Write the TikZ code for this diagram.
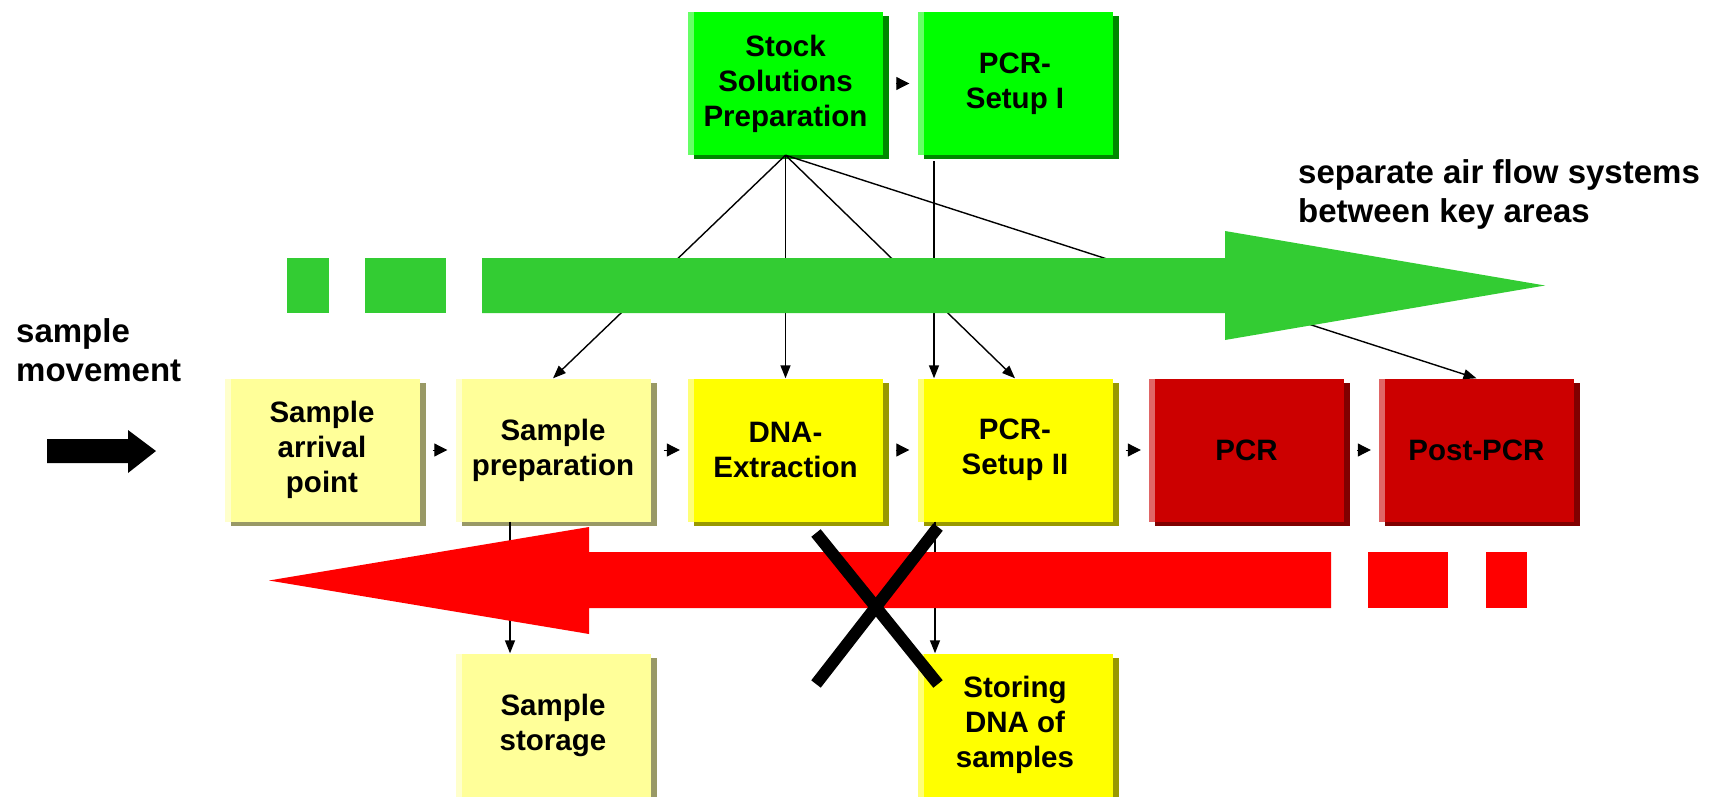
\documentclass[tikz,border=0pt]{standalone}
\usepackage{fontspec}
\setmainfont{Liberation Sans}
\usepackage{tikz}
\usetikzlibrary{arrows.meta,shadows}
\definecolor{labGreen}{HTML}{00FF00}
\definecolor{labGreenLt}{HTML}{66FF66}
\definecolor{labGreenDk}{HTML}{008800}
\definecolor{labPale}{HTML}{FFFF99}
\definecolor{labPaleLt}{HTML}{FFFFCC}
\definecolor{labPaleDk}{HTML}{999966}
\definecolor{labYellow}{HTML}{FFFF00}
\definecolor{labYellowLt}{HTML}{FFFF77}
\definecolor{labYellowDk}{HTML}{999900}
\definecolor{labRed}{HTML}{CC0000}
\definecolor{labRedLt}{HTML}{E06666}
\definecolor{labRedDk}{HTML}{800000}
\definecolor{airGreen}{HTML}{33CC33}
\definecolor{airRed}{HTML}{FF0000}

\begin{document}
\begin{tikzpicture}[
  x=1pt, y=-1pt,
  room/.style n args={3}{
    rectangle, inner sep=0pt, minimum width=195pt, minimum height=143pt,
    align=center, font=\bfseries\fontsize{29.5}{35}\selectfont, fill=#1,
    drop shadow={shadow xshift=6pt, shadow yshift=-4pt, opacity=1, fill=#3},
    path picture={\fill[#2] (path picture bounding box.south west)
      rectangle ([xshift=6pt]path picture bounding box.north west);}
  },
  greenroom/.style={room={labGreen}{labGreenLt}{labGreenDk}},
  paleroom/.style={room={labPale}{labPaleLt}{labPaleDk}},
  yellowroom/.style={room={labYellow}{labYellowLt}{labYellowDk}},
  redroom/.style={room={labRed}{labRedLt}{labRedDk}},
  link/.style={-{Triangle[length=13pt,width=10pt]}, line width=1.4pt},
  seq/.style={-{Triangle[length=13pt,width=13pt]}, line width=1pt,
    shorten <=13pt, shorten >=8pt},
  note/.style={font=\bfseries\fontsize{33}{39}\selectfont, align=left,
    inner sep=0pt, anchor=north west}
]
\useasboundingbox (0,0) rectangle (1709,797);

% ---- rooms ----------------------------------------------------------------
\node[greenroom]  (stock)   at (785.5,83.5) {Stock\\Solutions\\Preparation};
\node[greenroom]  (setupI)  at (1015,83.5)  {PCR-\\Setup I};
\node[paleroom]   (arrival) at (322,450)    {Sample\\arrival\\point};
\node[paleroom]   (prep)    at (553,450)    {Sample\\preparation};
\node[yellowroom] (dna)     at (785.5,450)  {DNA-\\Extraction};
\node[yellowroom] (setupII) at (1015,450)   {PCR-\\Setup II};
\node[redroom]    (pcr)     at (1246.5,450) {PCR};
\node[redroom]    (postpcr) at (1476.5,450) {Post-PCR};
\node[paleroom]   (storage) at (553,725)    {Sample\\storage};
\node[yellowroom] (storing) at (1015,725)   {Storing\\DNA of\\samples};

% ---- connectors -----------------------------------------------------------
\foreach \a/\b in {arrival/prep, prep/dna, dna/setupII, setupII/pcr,
                   pcr/postpcr, stock/setupI}
  \draw[seq] (\a) -- (\b);
\foreach \t in {prep, dna, setupII, postpcr}
  \draw[link] (stock.south) -- (\t.north);
\draw[link, shorten <=6pt] ([xshift=-81pt]setupI.south) -- ([xshift=-81pt]setupII.north);
\draw[link] ([xshift=-43pt]prep.south) -- ([xshift=-43pt]storage.north);
\draw[link] ([xshift=-80pt]setupII.south) -- ([xshift=-80pt]storing.north);

% ---- air flow -------------------------------------------------------------
\fill[airGreen] (287,258) rectangle (329,313);
\fill[airGreen] (365,258) rectangle (446,313);
\fill[airGreen] (482,258) -- (1225,258) -- (1225,231) -- (1545,285.5)
  -- (1225,340) -- (1225,313) -- (482,313) -- cycle;
\fill[airRed] (1486,552) rectangle (1527,608);
\fill[airRed] (1368,552) rectangle (1448,608);
\fill[airRed] (1331,552) -- (589,552) -- (589,527) -- (269,580.5)
  -- (589,634) -- (589,608) -- (1331,608) -- cycle;

% ---- sample movement ------------------------------------------------------
\fill (47,439) -- (128,439) -- (128,430) -- (156,451) -- (128,473)
  -- (128,463) -- (47,463) -- cycle;
\node[note] (movement) at (16,318) {sample\\movement};
\node[note] (airflow) at (1298,159) {separate air flow systems\\between key areas};

% ---- no way back ----------------------------------------------------------
\draw[line width=12pt] (816,533) -- (938,684);
\draw[line width=12pt] (938,527) -- (816,684);

\end{tikzpicture}
\end{document}
